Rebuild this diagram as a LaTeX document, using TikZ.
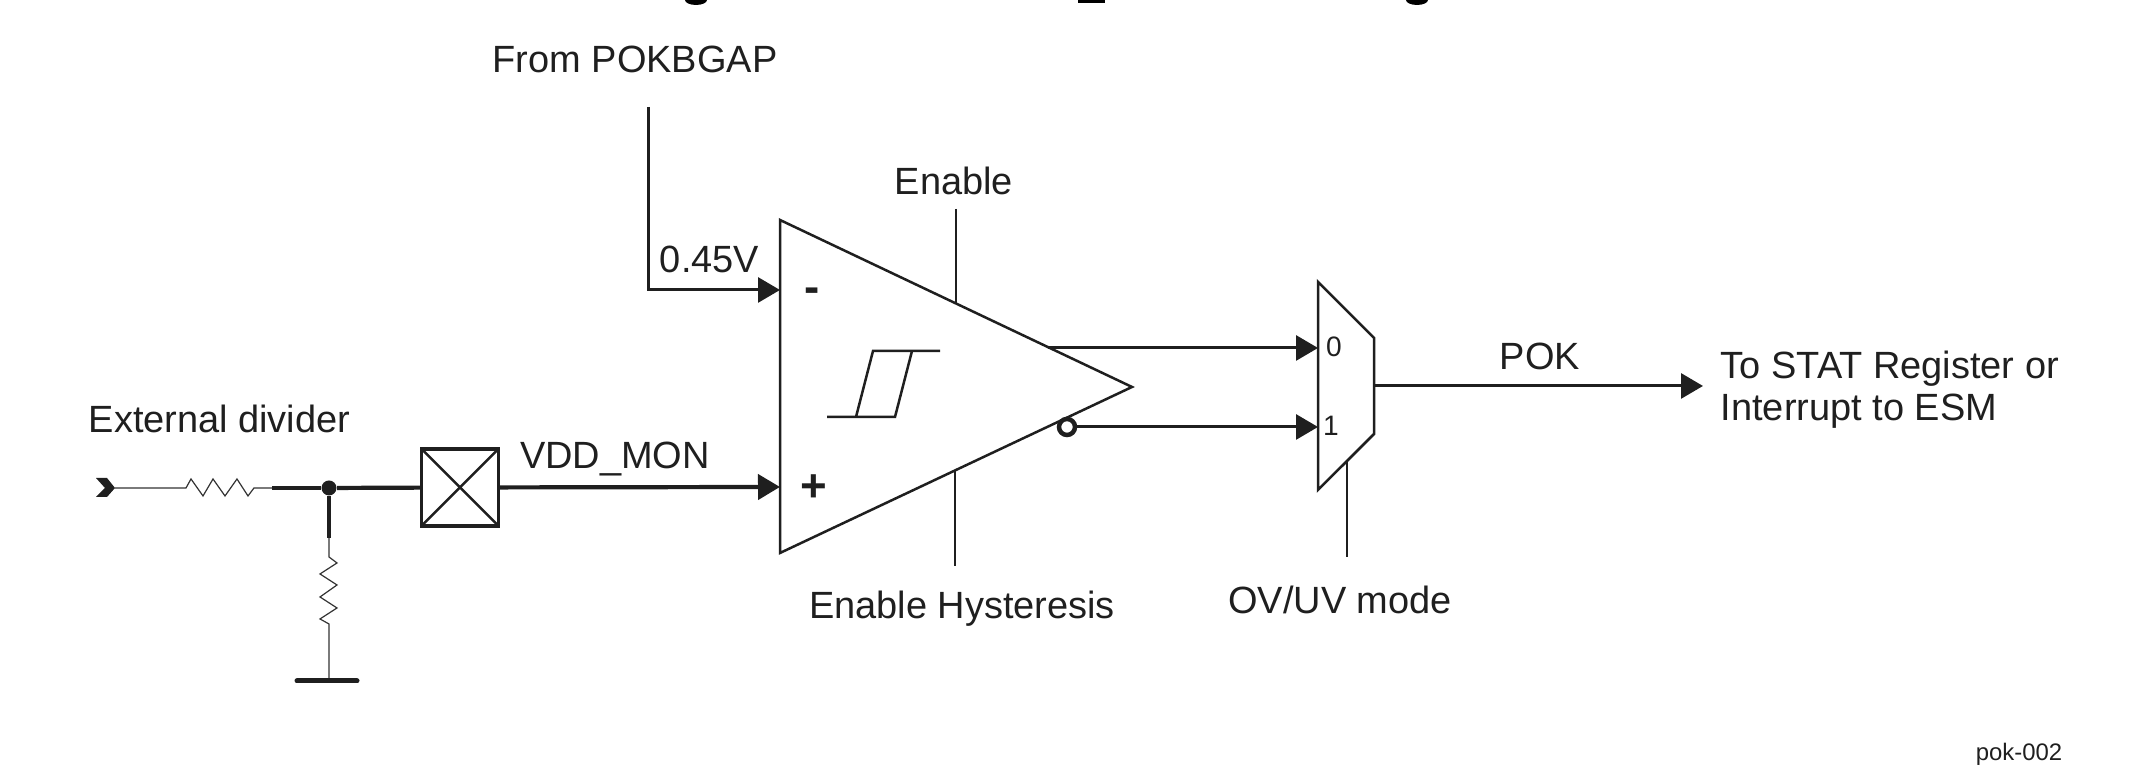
\documentclass[tikz,border=0pt]{standalone}
\usepackage{fontspec}
\setmainfont{Liberation Sans}
\usepackage{tikz}
\usetikzlibrary{arrows.meta,positioning}

\begin{document}
\begin{tikzpicture}[
  lbl/.style={font=\fontsize{10.8}{12}\selectfont, text=black!88, inner sep=0pt, align=left},
  small/.style={font=\fontsize{8}{10}\selectfont, text=black!88, inner sep=0pt},
  tag/.style={font=\fontsize{6.8}{8}\selectfont, text=black!88, inner sep=0pt},
  sign/.style={font=\fontsize{13}{15}\selectfont\bfseries, text=black!88, inner sep=0pt},
  wire/.style={line width=0.03cm, draw=black!88},
  thickwire/.style={line width=0.042cm, draw=black!88},
  thinwire/.style={line width=0.012cm, draw=black!80},
  ctrl/.style={line width=0.02cm, draw=black!88},
  arr/.style={-{Triangle[length=0.22cm,width=0.25cm]}, wire},
  gate/.style={line width=0.025cm, draw=black!88, line join=miter},
  dotnode/.style={circle, fill=black!88, inner sep=0pt, minimum size=0.15cm},
  bubble/.style={circle, draw=black!88, fill=white, line width=0.045cm, inner sep=0pt, minimum size=0.16cm},
  xbox/.style={draw=black!88, line width=0.035cm, minimum size=0.77cm, inner sep=0pt, outer sep=0pt}
]
\useasboundingbox (0,0.01) rectangle (21.32,7.76);

% comparator and mux corners
\coordinate (ta) at (7.80,5.56);
\coordinate (tb) at (7.80,2.23);
\coordinate (tip) at (11.32,3.89);
\coordinate (minus) at (7.80,4.86);
\coordinate (plus) at (7.80,2.89);
\coordinate (m0) at (13.18,4.28);
\coordinate (m1) at (13.18,3.49);
\coordinate (mout) at (13.74,3.90);
\coordinate (bg) at (6.48,6.69);
\coordinate (q0) at (10.48,4.28);
\coordinate (dest) at (17.03,3.90);
\coordinate (ena) at (9.56,5.67);
\coordinate (enb) at (9.56,4.72);
\coordinate (hya) at (9.55,3.05);
\coordinate (hyb) at (9.55,2.10);
\coordinate (sela) at (13.47,3.15);
\coordinate (selb) at (13.47,2.19);

% labels
\node[lbl] (from) at (6.35,7.165) {From POKBGAP};
\node[lbl] (vref) at (7.095,5.17) {0.45V};
\node[lbl] (en) at (9.54,5.955) {Enable};
\node[lbl] (hys) at (9.62,1.67) {Enable Hysteresis};
\node[lbl] (mode) at (13.40,1.765) {OV/UV mode};
\node[lbl] (pok) at (15.40,4.195) {POK};
\node[lbl, anchor=west] (stat) at (17.20,3.865) {To STAT Register or\\Interrupt to ESM};
\node[lbl, anchor=west] (ext) at (0.88,3.575) {External divider};
\node[lbl] (vdd) at (6.15,3.17) {VDD\_MON};
\node[tag] (part) at (20.19,0.22) {pok-002};
\node[sign] (sm) at (8.12,4.81) {-};
\node[sign] (sp) at (8.14,2.88) {+};
\node[small] (l0) at (13.34,4.29) {0};
\node[small] (l1) at (13.31,3.50) {1};

% ends of the heading cut by the page edge
\fill[black] (6.85,7.76) arc[start angle=180, end angle=360, x radius=0.11, y radius=0.05] -- cycle;
\fill[black] (10.78,7.73) rectangle (11.05,7.76);
\fill[black] (14.06,7.76) arc[start angle=180, end angle=360, x radius=0.11, y radius=0.05] -- cycle;

% input side
\coordinate (in) at (1.15,2.88);
\coordinate (r1a) at (1.86,2.88);
\coordinate (r1b) at (2.72,2.88);
\coordinate (r2a) at (3.29,2.38);
\coordinate (r2b) at (3.29,1.52);
\coordinate (gnd) at (3.29,0.95);
\node[dotnode] (tap) at (3.29,2.88) {};
\node[xbox] (box) at (4.60,2.885) {};
\draw[gate] (box.north west) -- (box.south east);
\draw[gate] (box.south west) -- (box.north east);
\fill[black!88] (0.96,2.98) -- (1.07,2.98) -- (1.15,2.88) -- (1.07,2.79) -- (0.96,2.79) -- (1.05,2.88) -- cycle;
\draw[thinwire] (in) -- (r1a) -- (1.91,2.97) -- (2.03,2.80) -- (2.13,2.97) -- (2.25,2.80)
  -- (2.37,2.97) -- (2.48,2.80) -- (2.54,2.88) -- (r1b);
\draw[thinwire] (r2a) -- (3.29,2.19) -- (3.37,2.13) -- (3.20,2.02) -- (3.37,1.91)
  -- (3.20,1.79) -- (3.37,1.68) -- (3.20,1.57) -- (r2b) -- (gnd);
\draw[thickwire] (r1b) -- (tap);
\draw[thickwire] (tap) -- (box);
\draw[thickwire] (tap) -- (r2a);
\draw[line width=0.05cm, draw=black!88, line cap=round] (2.97,0.95) -- (gnd) -- (3.57,0.95);

% comparator
\draw[gate] (ta) -- (tip) -- (tb) -- cycle;
\draw[gate] (8.27,3.59) -- (8.95,3.59) -- (9.12,4.25) (8.56,3.59) -- (8.73,4.25) -- (9.40,4.25);
\draw[ctrl] (ena) -- (enb);
\draw[ctrl] (hya) -- (hyb);
\node[bubble] (nq) at (10.67,3.49) {};

\draw[arr] (bg) |- (minus);
\draw[arr, thickwire] (box) -- (plus);
\draw[arr] (q0) -- (m0);
\draw[arr] (nq) -- (m1);

% mux
\draw[gate] (13.18,4.94) -- (13.74,4.38) -- (13.74,3.42) -- (13.18,2.86) -- cycle;
\draw[ctrl] (sela) -- (selb);
\draw[arr] (mout) -- (dest);
\end{tikzpicture}
\end{document}
